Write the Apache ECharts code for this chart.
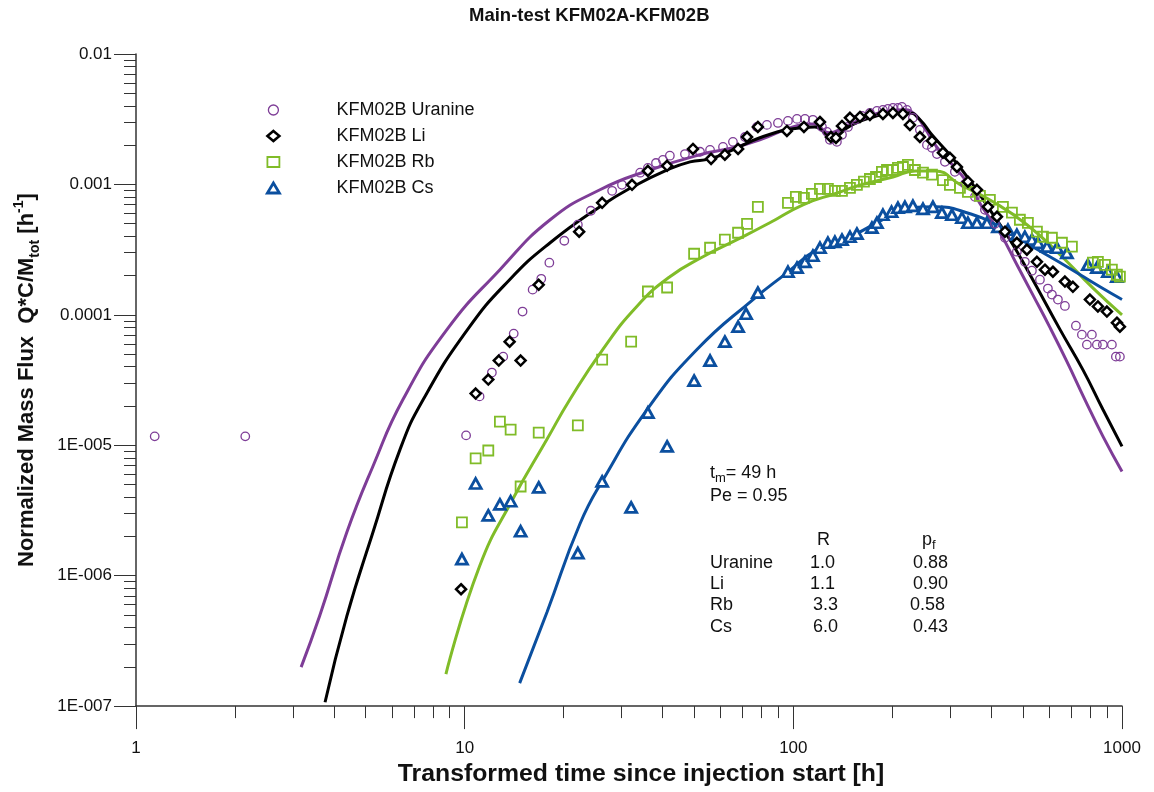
<!DOCTYPE html>
<html><head><meta charset="utf-8">
<script src="https://cdn.jsdelivr.net/npm/echarts@6/dist/echarts.min.js"></script>
<style>html,body{margin:0;padding:0;background:#fff}#c{width:1154px;height:792px}</style>
</head><body><div id="c"></div>
<script>
// ---------- Measured data (time [h], normalized mass flux [1/h]) ----------
const uranineT = [1.14,2.15,10.1,11.1,12.1,13.1,14.1,15.0,16.1,17.1,18.1,20.1,22.1,24.2,28.1,30.1,34.2,36.1,38.2,40.1,42.1,46.8,52.0,55.8,61.1,65.5,71.3,77.5,83.1,89.8,96.3,102.6,108.5,114.7,122.2,126.6,129.2,135.7,140.6,146.6,154,161.7,171,179.6,187.3,194,200.9,208.1,214,221.6,231.1,242.7,255,264.1,273.5,289.2,310.1,332.7,356.9,382.8,410.6,440.5,478.8,506.4,531.9,562.7,595.1,612,638.3,670.4,724.1,755.1,809.8,782,838.7,874.7,931.6,958.1,985.4];
const uranineC = [1.17e-5,1.17e-5,1.19e-5,2.37e-5,3.61e-5,4.78e-5,7.18e-5,1.06e-4,1.56e-4,1.89e-4,2.51e-4,3.70e-4,4.91e-4,6.28e-4,8.93e-4,9.93e-4,1.23e-3,1.34e-3,1.46e-3,1.54e-3,1.66e-3,1.71e-3,1.78e-3,1.84e-3,1.94e-3,2.12e-3,2.31e-3,2.76e-3,2.86e-3,2.96e-3,3.07e-3,3.18e-3,3.18e-3,3.13e-3,2.76e-3,2.53e-3,2.20e-3,2.12e-3,2.40e-3,2.76e-3,3.13e-3,3.35e-3,3.53e-3,3.66e-3,3.73e-3,3.79e-3,3.86e-3,3.86e-3,3.93e-3,3.73e-3,3.24e-3,2.62e-3,2.01e-3,1.91e-3,1.71e-3,1.49e-3,1.25e-3,1.01e-3,8.04e-4,6.39e-4,4.99e-4,3.90e-4,3.05e-4,2.55e-4,2.18e-4,1.86e-4,1.59e-4,1.43e-4,1.31e-4,1.17e-4,8.26e-5,7.05e-5,7.05e-5,5.91e-5,5.91e-5,5.91e-5,5.91e-5,4.78e-5,4.78e-5];

const liT = [9.75,10.8,11.8,12.7,13.7,14.8,16.8,22.3,26.2,32.3,36.1,41.3,49.5,56.2,61.9,67.9,72.3,78.0,95.6,107.7,120.5,130.1,134.8,140.6,148.7,159.5,171.0,187.3,200.9,215.5,226.3,242.7,264.1,285.2,299.5,314.6,339.8,361.9,390.9,416.4,440.5,478.8,513.6,551.0,582.9,616.3,670.4,708.9,798.6,844.6,899.6,965.0,985.4];
const liC = [7.87e-7,2.49e-5,3.19e-5,4.46e-5,6.23e-5,4.46e-5,1.70e-4,4.34e-4,7.23e-4,9.93e-4,1.27e-3,1.39e-3,1.87e-3,1.57e-3,1.69e-3,1.87e-3,2.31e-3,2.76e-3,2.57e-3,2.76e-3,3.01e-3,2.31e-3,2.27e-3,2.81e-3,3.24e-3,3.29e-3,3.41e-3,3.47e-3,3.53e-3,3.47e-3,2.86e-3,2.31e-3,2.16e-3,1.75e-3,1.60e-3,1.36e-3,1.05e-3,9.10e-4,6.73e-4,5.65e-4,4.34e-4,3.57e-4,3.16e-4,2.55e-4,2.22e-4,2.14e-4,1.80e-4,1.64e-4,1.31e-4,1.16e-4,1.06e-4,8.71e-5,8.12e-5];

const rbT = [9.81,10.8,11.8,12.8,13.8,14.8,16.8,22.1,26.2,32.1,36.1,41.3,49.9,55.8,61.9,67.9,72.3,78.0,96.3,101.8,107.7,113.9,120.5,127.4,133.8,140.6,148.7,156.1,164.0,171.0,178.4,186.0,192.7,200.9,208.1,215.5,223.2,234.4,248.0,264.1,285.2,299.5,321.3,339.8,369.6,396.3,434.2,462.5,489.0,517.2,551.0,574.8,612.0,656.5,704.0,815.6,844.6,887.2,931.6,965.0,985.4];
const rbC = [2.56e-6,7.93e-6,9.12e-6,1.52e-5,1.32e-5,4.83e-6,1.25e-5,1.42e-5,4.54e-5,6.23e-5,1.51e-4,1.62e-4,2.94e-4,3.27e-4,3.77e-4,4.26e-4,4.99e-4,6.73e-4,7.23e-4,8.04e-4,7.89e-4,8.47e-4,9.25e-4,9.25e-4,8.93e-4,8.93e-4,9.42e-4,9.93e-4,1.05e-3,1.10e-3,1.14e-3,1.25e-3,1.29e-3,1.29e-3,1.34e-3,1.36e-3,1.41e-3,1.29e-3,1.23e-3,1.19e-3,1.08e-3,9.93e-4,9.42e-4,8.77e-4,8.18e-4,7.62e-4,6.73e-4,6.07e-4,5.36e-4,5.08e-4,4.34e-4,3.97e-4,3.90e-4,3.57e-4,3.33e-4,2.51e-4,2.55e-4,2.42e-4,2.22e-4,2.03e-4,1.96e-4];

const csT = [9.81,10.8,11.8,12.8,13.8,14.8,16.8,22.1,26.2,32.1,36.1,41.3,49.9,55.8,61.9,67.9,71.8,78.0,96.3,102.6,108.5,114.7,120.5,127.4,133.8,140.6,148.7,156.1,173.4,179.6,187.3,199.0,208.1,218.5,231.1,248.0,265.9,283.2,303.8,325.9,339.8,361.9,388.2,419.4,449.8,478.8,506.4,531.9,554.9,590.9,633.8,679.8,787.5,838.7,906.0,965.0];
const csC = [1.34e-6,5.09e-6,2.90e-6,3.52e-6,3.72e-6,2.19e-6,4.75e-6,1.49e-6,5.28e-6,3.34e-6,1.78e-5,9.80e-6,3.13e-5,4.46e-5,6.23e-5,8.12e-5,1.02e-4,1.48e-4,2.14e-4,2.30e-4,2.55e-4,2.84e-4,3.27e-4,3.57e-4,3.63e-4,3.77e-4,3.97e-4,4.19e-4,4.66e-4,5.08e-4,5.85e-4,6.17e-4,6.62e-4,6.73e-4,6.85e-4,6.50e-4,6.73e-4,6.07e-4,5.85e-4,5.55e-4,5.08e-4,5.08e-4,5.08e-4,4.73e-4,4.49e-4,4.11e-4,3.97e-4,3.77e-4,3.57e-4,3.33e-4,3.27e-4,2.99e-4,2.42e-4,2.30e-4,2.14e-4,1.96e-4];

// ---------- Model curves ----------
const uraFitT = [3.18,3.62,4.38,5.26,6.49,8.83,12.8,18.2,25.8,36.6,52.0,65.5,79.1,99.7,115,129,141,167,197,219,235,251,273,299,337,377,425,479,535,604,680,771,875,1000];
const uraFitC = [1.99e-7,4.9e-7,2.15e-6,6.9e-6,2.24e-5,7.7e-5,2.22e-4,5.36e-4,9.1e-4,1.29e-3,1.69e-3,1.91e-3,2.20e-3,2.76e-3,2.91e-3,2.49e-3,2.71e-3,3.29e-3,3.66e-3,3.73e-3,3.41e-3,2.71e-3,1.94e-3,1.49e-3,1.05e-3,6.6e-4,4.26e-4,2.42e-4,1.43e-4,7.98e-5,4.38e-5,2.24e-5,1.17e-5,6.3e-6];

const liFitT = [3.76,4.38,5.26,6.36,7.48,10.2,13.7,18.2,25.8,32.5,41.3,48.5,55.7,65.5,79.1,99.7,116,131,149,171,204,226,243,264,299,344,396,456,525,648,760,875,1000];
const liFitC = [1.07e-7,4.89e-7,2.15e-6,9.3e-6,2.24e-5,7.7e-5,1.86e-4,3.57e-4,6.75e-4,9.6e-4,1.29e-3,1.49e-3,1.57e-3,1.84e-3,2.28e-3,2.67e-3,2.76e-3,2.31e-3,2.81e-3,3.24e-3,3.53e-3,3.53e-3,3.13e-3,2.40e-3,1.69e-3,1.08e-3,6.4e-4,3.77e-4,2.03e-4,7.7e-5,3.80e-5,1.88e-5,9.8e-6];

const rbFitT = [8.77,11.1,14.0,17.8,20.9,26.3,33.4,42.1,53.1,67.4,84.8,107,136,160,201,235,270,321,405,514,648,815,1000];
const rbFitC = [1.76e-7,1.18e-6,3.85e-6,1.11e-5,2.24e-5,5.42e-5,1.16e-4,1.96e-4,2.79e-4,3.77e-4,5.08e-4,6.98e-4,8.6e-4,9.9e-4,1.14e-3,1.27e-3,1.27e-3,1.0e-3,7.36e-4,4.91e-4,2.89e-4,1.61e-4,1.0e-4];

const csFitT = [14.7,17.8,22.4,26.4,35.9,50.9,75.4,95.6,118,149,187,226,270,337,425,535,680,857,1000];
const csFitC = [1.50e-7,5.25e-7,2.48e-6,5.47e-6,1.88e-5,5.42e-5,1.31e-4,2.10e-4,3.16e-4,3.97e-4,5.36e-4,6.62e-4,6.75e-4,6.07e-4,4.73e-4,3.33e-4,2.34e-4,1.64e-4,1.31e-4];

// ---------- Tick labels & annotation table ----------
const xTickLabels = ['1','10','100','1000'];
const yTickLabels = ['1E-007','1E-006','1E-005','0.0001','0.001','0.01'];
const xMinorTicks = [2,3,4,5,6,7,8,9,20,30,40,50,60,70,80,90,200,300,400,500,600,700,800,900];
const yMinorTicks = [2e-7,3e-7,4e-7,5e-7,6e-7,7e-7,8e-7,9e-7,2e-6,3e-6,4e-6,5e-6,6e-6,7e-6,8e-6,9e-6,2e-5,3e-5,4e-5,5e-5,6e-5,7e-5,8e-5,9e-5,2e-4,3e-4,4e-4,5e-4,6e-4,7e-4,8e-4,9e-4,2e-3,3e-3,4e-3,5e-3,6e-3,7e-3,8e-3,9e-3];
const seriesNames = ['KFM02B Uranine','KFM02B Li','KFM02B Rb','KFM02B Cs'];
const tracerNames = ['Uranine','Li','Rb','Cs'];
const paramR = ['1.0','1.1','3.3','6.0'];
const paramPf = ['0.88','0.90','0.58','0.43'];
const tmValue = '49 h';
const peValue = '0.95';

// ---------- Styling ----------
const FONT = '"Liberation Sans", Arial, sans-serif';
const PURPLE = '#7e3d97', BLACK = '#000000', GREEN = '#80bc28', BLUE = '#0b4f9f';
const zip = (t, c) => t.map((v, i) => [v, c[i]]);

const chart = echarts.init(document.getElementById('c'), null, {renderer: 'canvas'});

function fitLine(name, t, c, color) {
  return {type: 'line', name: name, data: zip(t, c), xAxisIndex: 0, yAxisIndex: 0,
    showSymbol: false, symbol: 'none', smooth: 0.5, z: 2, silent: true,
    lineStyle: {color: color, width: 3}};
}
function pts(name, t, c, symbol, size, fill, color, bw, z) {
  return {type: 'scatter', name: name, data: zip(t, c), xAxisIndex: 0, yAxisIndex: 0,
    symbol: symbol, symbolSize: size, z: z,
    itemStyle: {color: fill, borderColor: color, borderWidth: bw, opacity: 1}};
}

const sub = {fontSize: 13, lineHeight: 13, verticalAlign: 'bottom', fontFamily: FONT, fill: '#111'};
const txt = (text, x, y) => ({type: 'text', x: x, y: y, style: {text: text, fontSize: 18, fontFamily: FONT, fill: '#111', verticalAlign: 'middle',
  rich: {n: {fontSize: 18, lineHeight: 24, fontFamily: FONT, fill: '#111'}, s: sub}}});

const graphics = [
  txt('{n|t}{s|m}{n|= ' + tmValue + '}', 710, 473),
  txt('Pe = ' + peValue, 710, 496),
  txt('R', 817, 540),
  txt('{n|p}{s|f}', 922, 540)
];
const rX = [810, 810, 813, 813], pfX = [913, 913, 910, 913], rowY = [563, 584, 605, 627];
tracerNames.forEach((n, i) => {
  graphics.push(txt(n, 710, rowY[i]));
  graphics.push(txt(paramR[i], rX[i], rowY[i]));
  graphics.push(txt(paramPf[i], pfX[i], rowY[i]));
});

const option = {
  animation: false,
  backgroundColor: '#ffffff',
  textStyle: {fontFamily: FONT},
  title: {text: 'Main-test KFM02A-KFM02B', left: 469, top: 6, padding: 0,
    textStyle: {fontSize: 18.5, fontWeight: 'bold', color: '#111', fontFamily: FONT}},
  grid: {left: 136, right: 32, top: 54, bottom: 85, containLabel: false},
  legend: {orient: 'vertical', left: 266, top: 101, padding: 0, itemWidth: 12, itemHeight: 10, itemGap: 8,
    selectedMode: false,
    textStyle: {fontSize: 18, color: '#111', fontFamily: FONT, padding: [0, 0, 0, 52]},
    data: [
      {name: seriesNames[0], icon: 'circle', itemStyle: {color: 'rgba(0,0,0,0)', borderColor: PURPLE, borderWidth: 1.3}},
      {name: seriesNames[1], icon: 'diamond', itemStyle: {color: '#fff', borderColor: BLACK, borderWidth: 2.5}},
      {name: seriesNames[2], icon: 'rect', itemStyle: {color: 'rgba(0,0,0,0)', borderColor: GREEN, borderWidth: 1.8}},
      {name: seriesNames[3], icon: 'triangle', itemStyle: {color: '#fff', borderColor: BLUE, borderWidth: 2.8}}
    ]},
  xAxis: [
    {type: 'log', logBase: 10, min: 1, max: 1000, position: 'bottom',
      axisLine: {show: true, lineStyle: {color: '#333', width: 1.5}},
      axisTick: {show: true, inside: false, length: 23, lineStyle: {color: '#333', width: 1}},
      minorTick: {show: false}, splitLine: {show: false},
      axisLabel: {margin: 34, fontSize: 17, color: '#111', fontFamily: FONT,
        formatter: v => xTickLabels[Math.round(Math.log10(v))]},
      name: 'Transformed time since injection start [h]', nameLocation: 'middle', nameGap: 52,
      nameTextStyle: {fontSize: 24.8, fontWeight: 'bold', color: '#111', fontFamily: FONT, padding: [0, 0, 0, 24]}},
    {type: 'log', logBase: 10, min: 1, max: 1000, position: 'bottom',
      axisLine: {show: false}, axisLabel: {show: false}, splitLine: {show: false},
      axisTick: {show: true, inside: false, length: 12, customValues: xMinorTicks, lineStyle: {color: '#333', width: 1}}}
  ],
  yAxis: [
    {type: 'log', logBase: 10, min: 1e-7, max: 1e-2, position: 'left',
      axisLine: {show: true, lineStyle: {color: '#333', width: 1.5}},
      axisTick: {show: true, inside: false, length: 22, lineStyle: {color: '#333', width: 1}},
      minorTick: {show: false}, splitLine: {show: false},
      axisLabel: {margin: 24, fontSize: 17, color: '#111', fontFamily: FONT,
        formatter: v => yTickLabels[Math.round(Math.log10(v)) + 7]},
      name: 'Normalized Mass Flux  Q*C/M{sub|tot} [h{sup|-1}]', nameLocation: 'middle', nameRotate: 90, nameGap: 94,
      nameTextStyle: {fontSize: 22, fontWeight: 'bold', color: '#111', fontFamily: FONT, lineHeight: 30,
        rich: {sub: {fontSize: 14, fontWeight: 'bold', lineHeight: 14, verticalAlign: 'bottom', color: '#111', fontFamily: FONT},
               sup: {fontSize: 14, fontWeight: 'bold', lineHeight: 14, verticalAlign: 'top', color: '#111', fontFamily: FONT}}}},
    {type: 'log', logBase: 10, min: 1e-7, max: 1e-2, position: 'left',
      axisLine: {show: false}, axisLabel: {show: false}, splitLine: {show: false},
      axisTick: {show: true, inside: false, length: 12, customValues: yMinorTicks, lineStyle: {color: '#333', width: 1}}}
  ],
  series: [
    fitLine('Uranine model', uraFitT, uraFitC, PURPLE),
    fitLine('Li model', liFitT, liFitC, BLACK),
    fitLine('Rb model', rbFitT, rbFitC, GREEN),
    fitLine('Cs model', csFitT, csFitC, BLUE),
    pts(seriesNames[3], csT, csC, 'triangle', [11, 10], '#fff', BLUE, 2.8, 5),
    pts(seriesNames[0], uranineT, uranineC, 'circle', 8.5, 'rgba(0,0,0,0)', PURPLE, 1.3, 6),
    pts(seriesNames[2], rbT, rbC, 'rect', 10, 'rgba(0,0,0,0)', GREEN, 1.8, 7),
    pts(seriesNames[1], liT, liC, 'diamond', 10, '#fff', BLACK, 2.5, 8)
  ],
  graphic: graphics
};
chart.setOption(option);
</script></body></html>
